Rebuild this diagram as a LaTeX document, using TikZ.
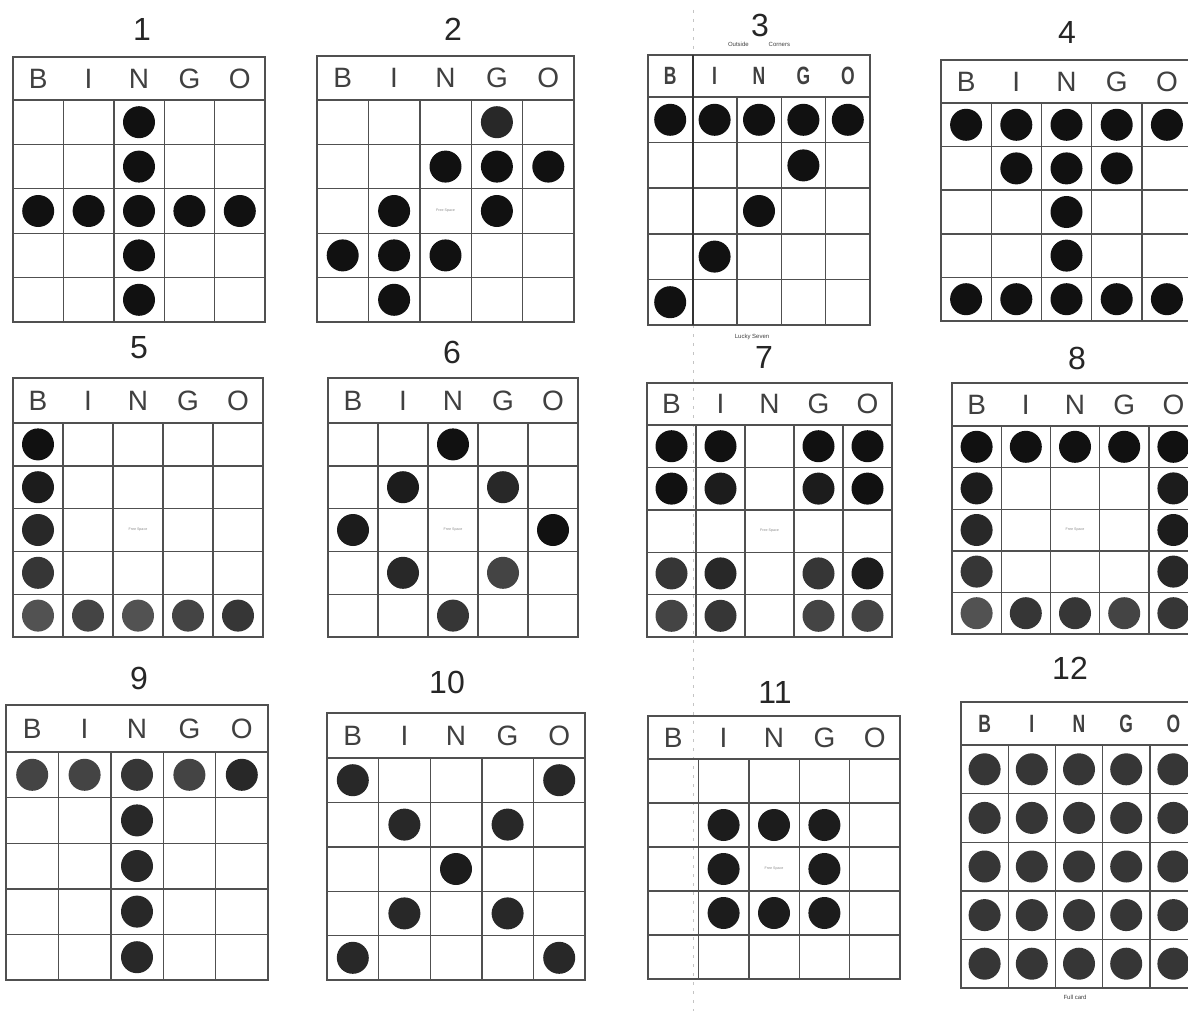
\documentclass[tikz,border=0pt]{standalone}
\usepackage{fontspec}
\setmainfont{Liberation Sans}
\newfontfamily\condb[FakeStretch=0.7]{Liberation Sans}
\definecolor{gridc}{HTML}{505050}
\definecolor{hdrc}{HTML}{404040}
\definecolor{blk}{HTML}{111111}
\definecolor{dA}{HTML}{1C1C1C}
\definecolor{dB}{HTML}{282828}
\definecolor{dC}{HTML}{363636}
\definecolor{dD}{HTML}{444444}
\definecolor{dE}{HTML}{525252}
\definecolor{fsc}{HTML}{8A8A8A}
\definecolor{artc}{HTML}{C4C4C4}
\tikzset{
  gridl/.style={draw=gridc, line width=1.4pt},
  hdr/.style={text=hdrc, font=\fontsize{28}{28}\selectfont, inner sep=0pt},
  hdrb/.style={text=hdrc, font=\condb\bfseries\fontsize{25}{25}\selectfont, inner sep=0pt},
  ttl/.style={text=black!85, font=\fontsize{32}{32}\selectfont, inner sep=0pt},
  fs/.style={text=fsc, font=\fontsize{3.6}{4}\selectfont, inner sep=0pt},
  tiny/.style={text=black!75, font=\fontsize{6}{6}\selectfont, inner sep=0pt},
}
\newcommand\setcard[5]{\def\cL{#1}\def\cR{#2}\def\cT{#3}\def\cH{#4}\def\cB{#5}%
  \pgfmathsetmacro\cw{(#2-#1)/5}\pgfmathsetmacro\ch{(#5-#4)/5}}
\newcommand\cardgrid[1]{%
  \draw[gridl] (\cL,\cT) rectangle (\cR,\cB);
  \draw[gridl] (\cL,\cH) -- (\cR,\cH);
  \foreach \i in {1,2,3,4}{
    \draw[gridl] ({\cL+\i*\cw},\cH) -- ({\cL+\i*\cw},\cB);
    \draw[gridl] (\cL,{\cH+\i*\ch}) -- (\cR,{\cH+\i*\ch});
  }
  \foreach \l [count=\i] in {B,I,N,G,O}
    \node[#1] at ({\cL+(\i-0.5)*\cw},{(\cT+\cH)/2}) {\l};
}
\newcommand\chip[3]{\fill[#3] ({\cL+(#1-0.5)*\cw},{\cH+(#2-0.5)*\ch}) circle[radius=16];}
\newcommand\freesp{\node[fs] at ({\cL+2.5*\cw},{\cH+2.5*\ch}) {Free Space};}
\begin{document}
\begin{tikzpicture}[x=1pt,y={(0pt,-1pt)}]
\useasboundingbox (0,0) rectangle (1188,1011);
\clip (0,0) rectangle (1188,1011);
\fill[white] (0,0) rectangle (1188,1011);
% scan artifact line
\draw[artc, line width=0.8pt, dash pattern=on 3pt off 6pt] (693,10) -- (693,1011);

% ---------- Card 1
\setcard{13}{265}{57}{100}{322}
\cardgrid{hdr}
\node[ttl] (t1) at (142,29) {1};
\foreach \r in {1,...,5} {\chip{3}{\r}{blk}}
\foreach \c in {1,2,4,5} {\chip{\c}{3}{blk}}

% ---------- Card 2
\setcard{317}{574}{56}{100}{322}
\cardgrid{hdr}
\node[ttl] (t2) at (453,29) {2};
\freesp
\chip{4}{1}{dB}
\chip{3}{2}{blk}\chip{4}{2}{blk}\chip{5}{2}{blk}
\chip{2}{3}{blk}\chip{4}{3}{blk}
\chip{1}{4}{blk}\chip{2}{4}{blk}\chip{3}{4}{blk}
\chip{2}{5}{blk}

% ---------- Card 3
\setcard{648}{870}{55}{97}{325}
\cardgrid{hdrb}
\draw[black!80, line width=2pt] (693,55) -- (693,325);
\node[ttl] (t3) at (760,25) {3};
\node[tiny] (s3a) at (759,44) {Outside\hspace{20pt}Corners};
\node[tiny] (s3b) at (752,337) {Lucky Seven};
\foreach \c in {1,...,5} {\chip{\c}{1}{blk}}
\chip{4}{2}{blk}\chip{3}{3}{blk}\chip{2}{4}{blk}\chip{1}{5}{blk}

% ---------- Card 4
\setcard{941}{1192}{60}{103}{321}
\cardgrid{hdr}
\node[ttl] (t4) at (1067,32) {4};
\foreach \c in {1,...,5} {\chip{\c}{1}{blk}\chip{\c}{5}{blk}}
\chip{2}{2}{blk}\chip{3}{2}{blk}\chip{4}{2}{blk}
\chip{3}{3}{blk}\chip{3}{4}{blk}

% ---------- Card 5
\setcard{13}{263}{378}{423}{637}
\cardgrid{hdr}
\node[ttl] (t5) at (139,348) {5};
\freesp
\chip{1}{1}{blk}\chip{1}{2}{dA}\chip{1}{3}{dB}\chip{1}{4}{dC}
\chip{1}{5}{dE}\chip{2}{5}{dD}\chip{3}{5}{dE}\chip{4}{5}{dD}\chip{5}{5}{dC}

% ---------- Card 6
\setcard{328}{578}{378}{423}{637}
\cardgrid{hdr}
\node[ttl] (t6) at (452,352) {6};
\freesp
\chip{3}{1}{blk}
\chip{2}{2}{dA}\chip{4}{2}{dB}
\chip{1}{3}{dA}\chip{5}{3}{blk}
\chip{2}{4}{dB}\chip{4}{4}{dD}
\chip{3}{5}{dC}

% ---------- Card 7
\setcard{647}{892}{383}{425}{637}
\cardgrid{hdr}
\node[ttl] (t7) at (764,357) {7};
\freesp
\chip{1}{1}{blk}\chip{2}{1}{blk}\chip{4}{1}{blk}\chip{5}{1}{blk}
\chip{1}{2}{blk}\chip{2}{2}{dA}\chip{4}{2}{dA}\chip{5}{2}{blk}
\chip{1}{4}{dC}\chip{2}{4}{dB}\chip{4}{4}{dC}\chip{5}{4}{dA}
\chip{1}{5}{dD}\chip{2}{5}{dC}\chip{4}{5}{dD}\chip{5}{5}{dD}

% ---------- Card 8
\setcard{952}{1198}{383}{426}{634}
\cardgrid{hdr}
\node[ttl] (t8) at (1077,358) {8};
\freesp
\foreach \c in {1,...,5} {\chip{\c}{1}{blk}}
\chip{1}{2}{dA}\chip{1}{3}{dB}\chip{1}{4}{dC}
\chip{5}{2}{dA}\chip{5}{3}{dA}\chip{5}{4}{dB}
\chip{1}{5}{dE}\chip{2}{5}{dC}\chip{3}{5}{dC}\chip{4}{5}{dD}\chip{5}{5}{dC}

% ---------- Card 9
\setcard{6}{268}{705}{752}{980}
\cardgrid{hdr}
\node[ttl] (t9) at (139,678) {9};
\chip{1}{1}{dD}\chip{2}{1}{dD}\chip{3}{1}{dC}\chip{4}{1}{dD}\chip{5}{1}{dB}
\foreach \r in {2,...,5} {\chip{3}{\r}{dB}}

% ---------- Card 10
\setcard{327}{585}{713}{758}{980}
\cardgrid{hdr}
\node[ttl] (t10) at (447,682) {10};
\chip{1}{1}{dB}\chip{5}{1}{dB}
\chip{2}{2}{dB}\chip{4}{2}{dB}
\chip{3}{3}{dA}
\chip{2}{4}{dB}\chip{4}{4}{dB}
\chip{1}{5}{dB}\chip{5}{5}{dB}

% ---------- Card 11
\setcard{648}{900}{716}{759}{979}
\cardgrid{hdr}
\node[ttl] (t11) at (775,692) {11};
\freesp
\chip{2}{2}{dA}\chip{3}{2}{dA}\chip{4}{2}{dA}
\chip{2}{3}{dA}\chip{4}{3}{dA}
\chip{2}{4}{dA}\chip{3}{4}{dA}\chip{4}{4}{dA}

% ---------- Card 12
\setcard{961}{1197}{702}{745}{988}
\cardgrid{hdrb}
\node[ttl] (t12) at (1070,668) {12};
\node[tiny] (s12) at (1075,997) {Full card};
\foreach \r in {1,...,5} {\foreach \c in {1,...,5} {\chip{\c}{\r}{dC}}}
\end{tikzpicture}
\end{document}
